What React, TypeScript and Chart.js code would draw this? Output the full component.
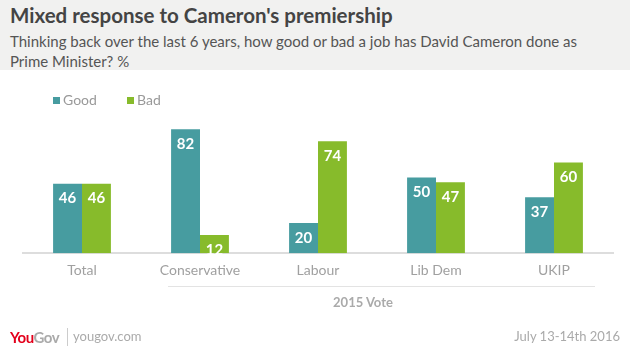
import React, { useEffect, useRef } from "react";
import { Chart, registerables } from "chart.js";

Chart.register(...registerables);

const categories = ["Total", "Conservative", "Labour", "Lib Dem", "UKIP"];
const goodValues = [46, 82, 20, 50, 37];
const badValues = [46, 12, 74, 47, 60];
const seriesNames = ["Good", "Bad"];
const GOOD = "#479ca0";
const BAD = "#87bb2b";
const FONT = "Lato, 'Open Sans', sans-serif";

const valueLabels = {
  id: "valueLabels",
  afterDatasetsDraw(chart: any) {
    const ctx = chart.ctx;
    ctx.save();
    ctx.fillStyle = "#ffffff";
    ctx.font = `bold 15px ${FONT}`;
    ctx.textAlign = "center";
    ctx.textBaseline = "middle";
    chart.data.datasets.forEach((ds: any, i: number) => {
      const meta = chart.getDatasetMeta(i);
      meta.data.forEach((bar: any, j: number) => {
        ctx.fillText(String(ds.data[j]), bar.x, bar.y + 15);
      });
    });
    ctx.restore();
  },
};

export default function App() {
  const ref = useRef<HTMLCanvasElement>(null);
  useEffect(() => {
    const chart = new Chart(ref.current!, {
      type: "bar",
      data: {
        labels: categories,
        datasets: [
          { label: seriesNames[0], data: goodValues, backgroundColor: GOOD },
          { label: seriesNames[1], data: badValues, backgroundColor: BAD },
        ],
      },
      options: {
        animation: false,
        responsive: false,
        maintainAspectRatio: false,
        layout: { padding: { top: 102, left: 23, right: 17, bottom: 63 } },
        plugins: { legend: { display: false }, tooltip: { enabled: false } },
        datasets: { bar: { categoryPercentage: 0.49, barPercentage: 1 } },
        scales: {
          x: {
            grid: { display: false, drawTicks: false },
            border: { color: "#dddddd", width: 2 },
            ticks: { color: "#a0a0a0", font: { family: FONT, size: 14 }, padding: 9 },
          },
          y: { display: false, min: 0, max: 100 },
        },
      },
      plugins: [valueLabels],
    });
    return () => chart.destroy();
  }, []);

  return (
    <div style={{ position: "absolute", left: 0, top: 0, width: 630, height: 351, background: "#fff", fontFamily: FONT, overflow: "hidden" }}>
      <div style={{ position: "absolute", left: 0, top: 0, width: 630, height: 70, background: "#f1f1f0" }} />
      <div style={{ position: "absolute", left: 10, top: 3, fontSize: 20.5, fontWeight: 700, color: "#444", whiteSpace: "nowrap" }}>
        Mixed response to Cameron's premiership
      </div>
      <div style={{ position: "absolute", left: 10, top: 31, width: 600, fontSize: 15, lineHeight: "20px", color: "#555" }}>
        Thinking back over the last 6 years, how good or bad a job has David Cameron done as Prime Minister? %
      </div>
      <canvas ref={ref} width={630} height={351} style={{ position: "absolute", left: 0, top: 0 }} />
      <div style={{ position: "absolute", left: 53, top: 97, width: 7, height: 7, background: GOOD }} />
      <div style={{ position: "absolute", left: 63, top: 91, fontSize: 14, color: "#999" }}>{seriesNames[0]}</div>
      <div style={{ position: "absolute", left: 127, top: 97, width: 7, height: 7, background: BAD }} />
      <div style={{ position: "absolute", left: 137, top: 91, fontSize: 14, color: "#999" }}>{seriesNames[1]}</div>
      <div style={{ position: "absolute", left: 168, top: 286, width: 427, height: 1, background: "#e3e3e3" }} />
      <div style={{ position: "absolute", left: 263, width: 200, top: 294, textAlign: "center", fontSize: 13, fontWeight: 700, color: "#aaa" }}>
        2015 Vote
      </div>
      <div style={{ position: "absolute", left: 10, top: 328, fontSize: 15, fontWeight: 700, letterSpacing: -0.5, whiteSpace: "nowrap" }}>
        <span style={{ color: "#e3001b" }}>You</span>
        <span style={{ color: "#aaa" }}>Gov</span>
      </div>
      <div style={{ position: "absolute", left: 67, top: 328, width: 1, height: 18, background: "#ccc" }} />
      <div style={{ position: "absolute", left: 73, top: 328, fontSize: 13, color: "#aaa" }}>yougov.com</div>
      <div style={{ position: "absolute", right: 10, top: 328, fontSize: 13, color: "#aaa" }}>July 13-14th 2016</div>
    </div>
  );
}
